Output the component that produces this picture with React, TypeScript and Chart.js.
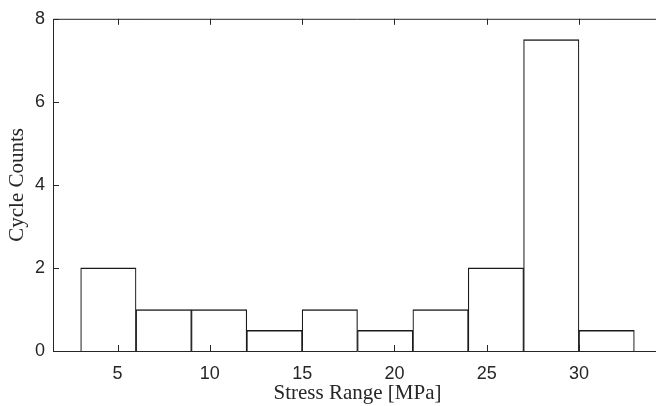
import React, { useEffect, useRef } from "react";
import { Chart, registerables } from "chart.js";

Chart.register(...registerables);

const binEdges = [3, 6, 9, 12, 15, 18, 21, 24, 27, 30, 33];
const cycleCounts = [2, 1, 1, 0.5, 1, 0.5, 1, 2, 7.5, 0.5];
const xTickValues = [5, 10, 15, 20, 25, 30];
const yTickValues = [0, 2, 4, 6, 8];
const xLabel = "Stress Range [MPa]";
const yLabel = "Cycle Counts";

const AXIS = "#262626";
const W = 670;
const H = 406;

const inwardTicks = {
  id: "inwardTicks",
  afterDatasetsDraw(chart: any) {
    const { ctx, chartArea } = chart;
    const { left, right, top, bottom } = chartArea;
    const xs = chart.scales.x;
    const ys = chart.scales.y;
    const len = 6;
    ctx.save();
    ctx.strokeStyle = AXIS;
    ctx.lineWidth = 1;
    ctx.beginPath();
    ctx.moveTo(left + 0.5, bottom + 0.5);
    ctx.lineTo(left + 0.5, top + 0.5);
    ctx.lineTo(right - 0.5, top + 0.5);
    ctx.lineTo(right - 0.5, bottom + 0.5);
    ctx.lineTo(left + 0.5, bottom + 0.5);
    xs.ticks.forEach((t: any) => {
      const px = Math.round(xs.getPixelForValue(t.value)) + 0.5;
      ctx.moveTo(px, bottom);
      ctx.lineTo(px, bottom - len);
      ctx.moveTo(px, top);
      ctx.lineTo(px, top + len);
    });
    ys.ticks.forEach((t: any) => {
      const py = Math.round(ys.getPixelForValue(t.value)) + 0.5;
      ctx.moveTo(left, py);
      ctx.lineTo(left + len, py);
      ctx.moveTo(right, py);
      ctx.lineTo(right - len, py);
    });
    ctx.stroke();
    ctx.restore();
  },
};

export default function App() {
  const ref = useRef<HTMLCanvasElement>(null);
  useEffect(() => {
    document.body.style.margin = "0";
    document.body.style.overflow = "hidden";
    const centers = cycleCounts.map((_, i) => (binEdges[i] + binEdges[i + 1]) / 2);
    const chart = new Chart(ref.current!, {
      type: "bar",
      data: {
        datasets: [
          {
            data: centers.map((c, i) => ({ x: c, y: cycleCounts[i] })),
            backgroundColor: "#ffffff",
            borderColor: "#1a1a1a",
            borderWidth: { top: 1.5, left: 1.2, right: 1.2, bottom: 0 },
            borderSkipped: false,
            barPercentage: 1,
            categoryPercentage: 1,
          },
        ],
      },
      plugins: [inwardTicks],
      options: {
        responsive: false,
        animation: false,
        devicePixelRatio: 1,
        layout: { padding: { top: 17, right: 8, left: 0, bottom: 0 } },
        plugins: { legend: { display: false }, tooltip: { enabled: false } },
        scales: {
          x: {
            type: "linear",
            offset: false,
            min: 1.5,
            max: 34.5,
            afterBuildTicks: (s: any) => {
              s.ticks = xTickValues.map((v) => ({ value: v }));
            },
            afterFit: (s: any) => {
              s.height = 55;
            },
            grid: { display: false, drawTicks: false, offset: false },
            border: { display: false },
            ticks: {
              color: AXIS,
              font: { family: "Liberation Sans", size: 18 },
              padding: 12,
              maxRotation: 0,
            },
            title: {
              display: true,
              text: xLabel,
              color: AXIS,
              font: { family: "Liberation Serif", size: 21 },
              padding: { top: 0, bottom: 0 },
            },
          },
          y: {
            min: 0,
            max: 8,
            afterBuildTicks: (s: any) => {
              s.ticks = yTickValues.map((v) => ({ value: v }));
            },
            afterFit: (s: any) => {
              s.width = 53;
            },
            grid: { display: false, drawTicks: false },
            border: { display: false },
            ticks: {
              color: AXIS,
              font: { family: "Liberation Sans", size: 18 },
              padding: 8,
            },
            title: {
              display: true,
              text: yLabel,
              color: AXIS,
              font: { family: "Liberation Serif", size: 21 },
              padding: { top: 5, bottom: 0 },
            },
          },
        },
      },
    });
    return () => chart.destroy();
  }, []);
  return (
    <div style={{ position: "fixed", left: 0, top: 0, width: 656, height: 406, overflow: "hidden", background: "#fff" }}>
      <canvas ref={ref} width={W} height={H} style={{ width: W, height: H, display: "block" }} />
    </div>
  );
}
